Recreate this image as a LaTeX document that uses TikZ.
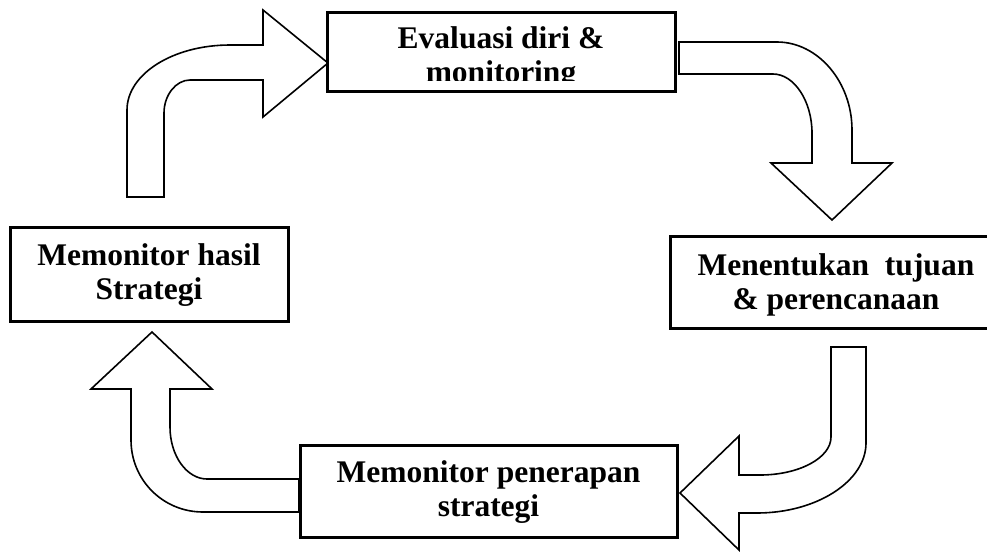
\documentclass[tikz,border=0pt]{standalone}
\usepackage{fontspec}
\setmainfont{Liberation Serif}
\tikzset{
  boxnode/.style={draw, line width=3pt, fill=white, inner sep=0pt},
  lbl/.style={font=\fontsize{31.5}{34}\selectfont\bfseries, align=center, inner sep=0pt},
  blockarrow/.style={draw, line width=1.6pt, fill=white, line join=miter},
}
\begin{document}
\begin{tikzpicture}[x=1pt,y=-1pt]
\clip (0,0) rectangle (987,552);
\fill[white] (0,0) rectangle (987,552);
% block arrows
\draw[blockarrow] (127,197) -- (127,110) .. controls (127,74) and (173,45) .. (230,45) -- (263,45) -- (263,10) -- (328,63) -- (263,117) -- (263,80) -- (190,80) .. controls (176,80) and (164,95) .. (164,113) -- (164,197) -- cycle;
\draw[blockarrow] (679,42) -- (777,42) .. controls (818,42) and (852,82) .. (852,130) -- (852,163) -- (892,163) -- (832,220) -- (771,163) -- (812,163) -- (812,133) .. controls (812,101) and (794,74) .. (773,74) -- (679,74) -- cycle;
\draw[blockarrow] (831,347) -- (866,347) -- (866,443) .. controls (866,481) and (817,513) .. (757,513) -- (739,513) -- (739,550) -- (680,493) -- (739,436) -- (739,475) -- (760,475) .. controls (799,475) and (831,458) .. (831,437) -- cycle;
\draw[blockarrow] (299,479) -- (207,479) .. controls (187,479) and (170,456) .. (170,427) -- (170,389) -- (212,389) -- (152,332) -- (91,389) -- (131,389) -- (131,440) .. controls (131,480) and (163,512) .. (203,512) -- (299,512) -- cycle;
% boxes
\node[boxnode, minimum width=348pt, minimum height=79pt] (evalbox) at (501,51.5) {};
\node[boxnode, minimum width=278pt, minimum height=94pt] (hasilbox) at (149,274) {};
\node[boxnode, minimum width=332pt, minimum height=92pt] (tujuanbox) at (836,282) {};
\node[boxnode, minimum width=377pt, minimum height=92pt] (penerapanbox) at (488.5,491) {};
% texts
\begin{scope}
\clip (327,12) rectangle (675,80);
\node[lbl] (evaltext) at (501,58) {Evaluasi diri \&\\monitoring};
\end{scope}
\node[lbl] (hasiltext) at (149,275) {Memonitor hasil\\Strategi};
\node[lbl] (tujuantext) at (836,285) {Menentukan~ tujuan\\\& perencanaan};
\node[lbl] (penerapantext) at (488.5,492) {Memonitor penerapan\\strategi};
\end{tikzpicture}
\end{document}
